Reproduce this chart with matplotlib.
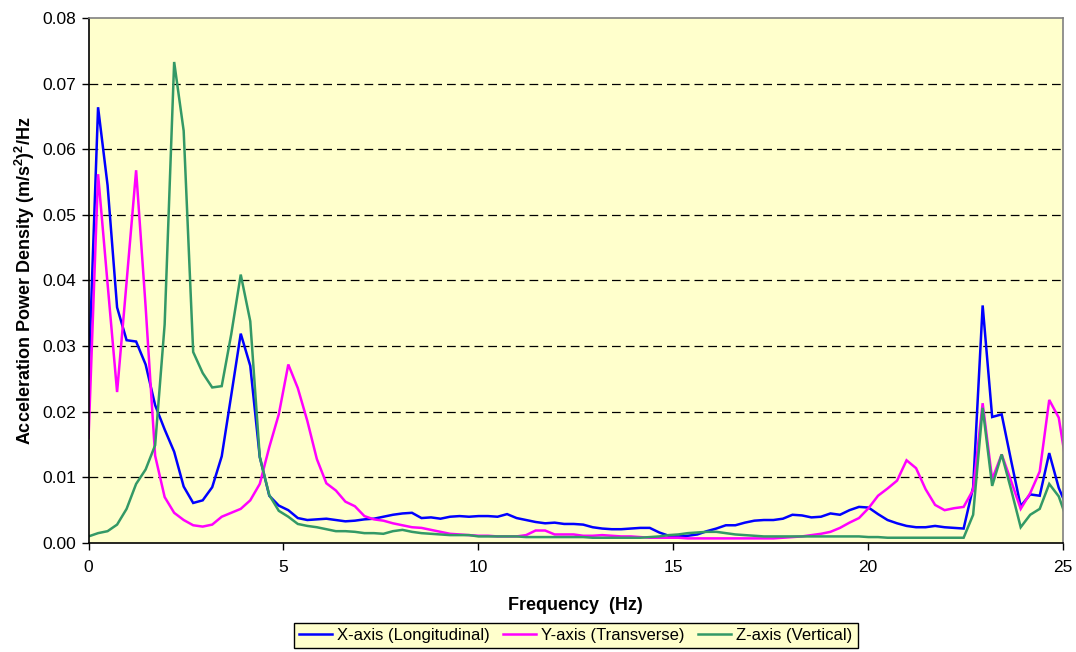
import numpy as np
import matplotlib
matplotlib.use("Agg")
import matplotlib.pyplot as plt

plt.rcParams['font.family'] = ['Liberation Sans', 'DejaVu Sans']

# Spectral resolution of the PSD (Hz per bin)
df = 250.0 / 1024.0

x_long = [
    0.0250, 0.0664, 0.0545, 0.0359, 0.0309, 0.0307, 0.0272, 0.0210, 0.0173, 0.0139,
    0.0086, 0.0061, 0.0065, 0.0085, 0.0132, 0.0225, 0.0319, 0.0270, 0.0131, 0.0072,
    0.0057, 0.0050, 0.0038, 0.0035, 0.0036, 0.0037, 0.0035, 0.0033, 0.0034, 0.0036,
    0.0037, 0.0040, 0.0043, 0.0045, 0.0046, 0.0038, 0.0039, 0.0037, 0.0040, 0.0041,
    0.0040, 0.0041, 0.0041, 0.0040, 0.0044, 0.0038, 0.0035, 0.0032, 0.0030, 0.0031,
    0.0029, 0.0029, 0.0028, 0.0024, 0.0022, 0.0021, 0.0021, 0.0022, 0.0023, 0.0023,
    0.0016, 0.0011, 0.0010, 0.0011, 0.0013, 0.0018, 0.0022, 0.0027, 0.0027, 0.0031,
    0.0034, 0.0035, 0.0035, 0.0037, 0.0043, 0.0042, 0.0039, 0.0040, 0.0045, 0.0043,
    0.0050, 0.0055, 0.0054, 0.0044, 0.0035, 0.0030, 0.0026, 0.0024, 0.0024, 0.0026,
    0.0024, 0.0023, 0.0022, 0.0085, 0.0362, 0.0192, 0.0196, 0.0125, 0.0056, 0.0074,
    0.0072, 0.0137, 0.0084, 0.0050,
]

y_trans = [
    0.0160, 0.0562, 0.0395, 0.0230, 0.0398, 0.0568, 0.0360, 0.0133, 0.0070, 0.0046,
    0.0035, 0.0027, 0.0025, 0.0028, 0.0040, 0.0046, 0.0052, 0.0065, 0.0090, 0.0146,
    0.0196, 0.0272, 0.0236, 0.0186, 0.0128, 0.0091, 0.0080, 0.0063, 0.0056, 0.0041,
    0.0036, 0.0034, 0.0030, 0.0027, 0.0024, 0.0023, 0.0020, 0.0017, 0.0014, 0.0013,
    0.0012, 0.0011, 0.0011, 0.0010, 0.0010, 0.0010, 0.0012, 0.0019, 0.0019, 0.0013,
    0.0013, 0.0013, 0.0011, 0.0011, 0.0012, 0.0011, 0.0010, 0.0010, 0.0009, 0.0008,
    0.0008, 0.0008, 0.0008, 0.0007, 0.0007, 0.0007, 0.0007, 0.0007, 0.0007, 0.0007,
    0.0007, 0.0007, 0.0007, 0.0008, 0.0009, 0.0010, 0.0012, 0.0014, 0.0017, 0.0023,
    0.0031, 0.0038, 0.0053, 0.0072, 0.0083, 0.0095, 0.0126, 0.0114, 0.0082, 0.0058,
    0.0050, 0.0053, 0.0055, 0.0081, 0.0213, 0.0097, 0.0135, 0.0094, 0.0052, 0.0076,
    0.0109, 0.0218, 0.0191, 0.0100,
]

z_vert = [
    0.0010, 0.0015, 0.0018, 0.0028, 0.0052, 0.0090, 0.0112, 0.0149, 0.0333, 0.0733,
    0.0628, 0.0291, 0.0259, 0.0237, 0.0239, 0.0318, 0.0409, 0.0338, 0.0131, 0.0073,
    0.0049, 0.0040, 0.0029, 0.0026, 0.0024, 0.0021, 0.0018, 0.0018, 0.0017, 0.0015,
    0.0015, 0.0014, 0.0018, 0.0020, 0.0017, 0.0015, 0.0014, 0.0013, 0.0012, 0.0012,
    0.0012, 0.0010, 0.0010, 0.0010, 0.0010, 0.0010, 0.0009, 0.0009, 0.0009, 0.0009,
    0.0009, 0.0009, 0.0009, 0.0008, 0.0008, 0.0008, 0.0008, 0.0008, 0.0008, 0.0009,
    0.0010, 0.0012, 0.0013, 0.0015, 0.0016, 0.0017, 0.0017, 0.0015, 0.0013, 0.0012,
    0.0011, 0.0010, 0.0010, 0.0010, 0.0010, 0.0010, 0.0010, 0.0010, 0.0010, 0.0010,
    0.0010, 0.0010, 0.0009, 0.0009, 0.0008, 0.0008, 0.0008, 0.0008, 0.0008, 0.0008,
    0.0008, 0.0008, 0.0008, 0.0043, 0.0206, 0.0087, 0.0135, 0.0081, 0.0024, 0.0043,
    0.0052, 0.0090, 0.0071, 0.0030,
]

freq = np.arange(len(x_long)) * df

series_labels = ["X-axis (Longitudinal)", "Y-axis (Transverse)", "Z-axis (Vertical)"]
series_colors = ["#0000FF", "#FF00FF", "#339966"]
x_ticks = [0, 5, 10, 15, 20, 25]
y_ticks = [0.00, 0.01, 0.02, 0.03, 0.04, 0.05, 0.06, 0.07, 0.08]

fig = plt.figure(figsize=(10.76, 6.52), dpi=100)
ax = fig.add_axes([0.0823, 0.1672, 0.9052, 0.8052])
ax.set_facecolor("#FFFFCC")

for vals, lab, col in zip([x_long, y_trans, z_vert], series_labels, series_colors):
    ax.plot(freq, vals, color=col, lw=1.8, label=lab, solid_joinstyle="miter")

ax.set_xlim(0, 25)
ax.set_ylim(0, 0.08)
ax.set_xticks(x_ticks)
ax.set_yticks(y_ticks)
ax.set_yticklabels([f"{v:.2f}" for v in y_ticks])
ax.tick_params(axis="both", direction="out", length=5, width=1, labelsize=12.5,
               color="black")
ax.tick_params(axis="x", pad=7)
ax.tick_params(axis="y", pad=4)

for v in y_ticks[1:-1]:
    ax.axhline(v, color="black", lw=0.9, ls=(0, (7, 4)), zorder=0.5)

for side in ["left", "bottom"]:
    ax.spines[side].set_color("black")
    ax.spines[side].set_linewidth(1.2)
for side in ["top", "right"]:
    ax.spines[side].set_color("#808080")
    ax.spines[side].set_linewidth(1.2)

ax.set_xlabel("Frequency  (Hz)", fontsize=13, fontweight="bold", labelpad=16)
ax.set_ylabel("Acceleration Power Density (m/s$^\\mathregular{2}$)$^\\mathregular{2}$/Hz",
              fontsize=13, fontweight="bold", labelpad=4)

leg = fig.legend(loc="lower center", bbox_to_anchor=(0.535, -0.006), ncol=3,
                 fontsize=12, frameon=True, fancybox=False, handlelength=2.0,
                 handletextpad=0.3, columnspacing=0.8, borderpad=0.3)
leg.get_frame().set_facecolor("#FFFFCC")
leg.get_frame().set_edgecolor("black")
leg.get_frame().set_linewidth(1.0)
leg.get_frame().set_alpha(1.0)

fig.savefig("out.png", dpi=100)
